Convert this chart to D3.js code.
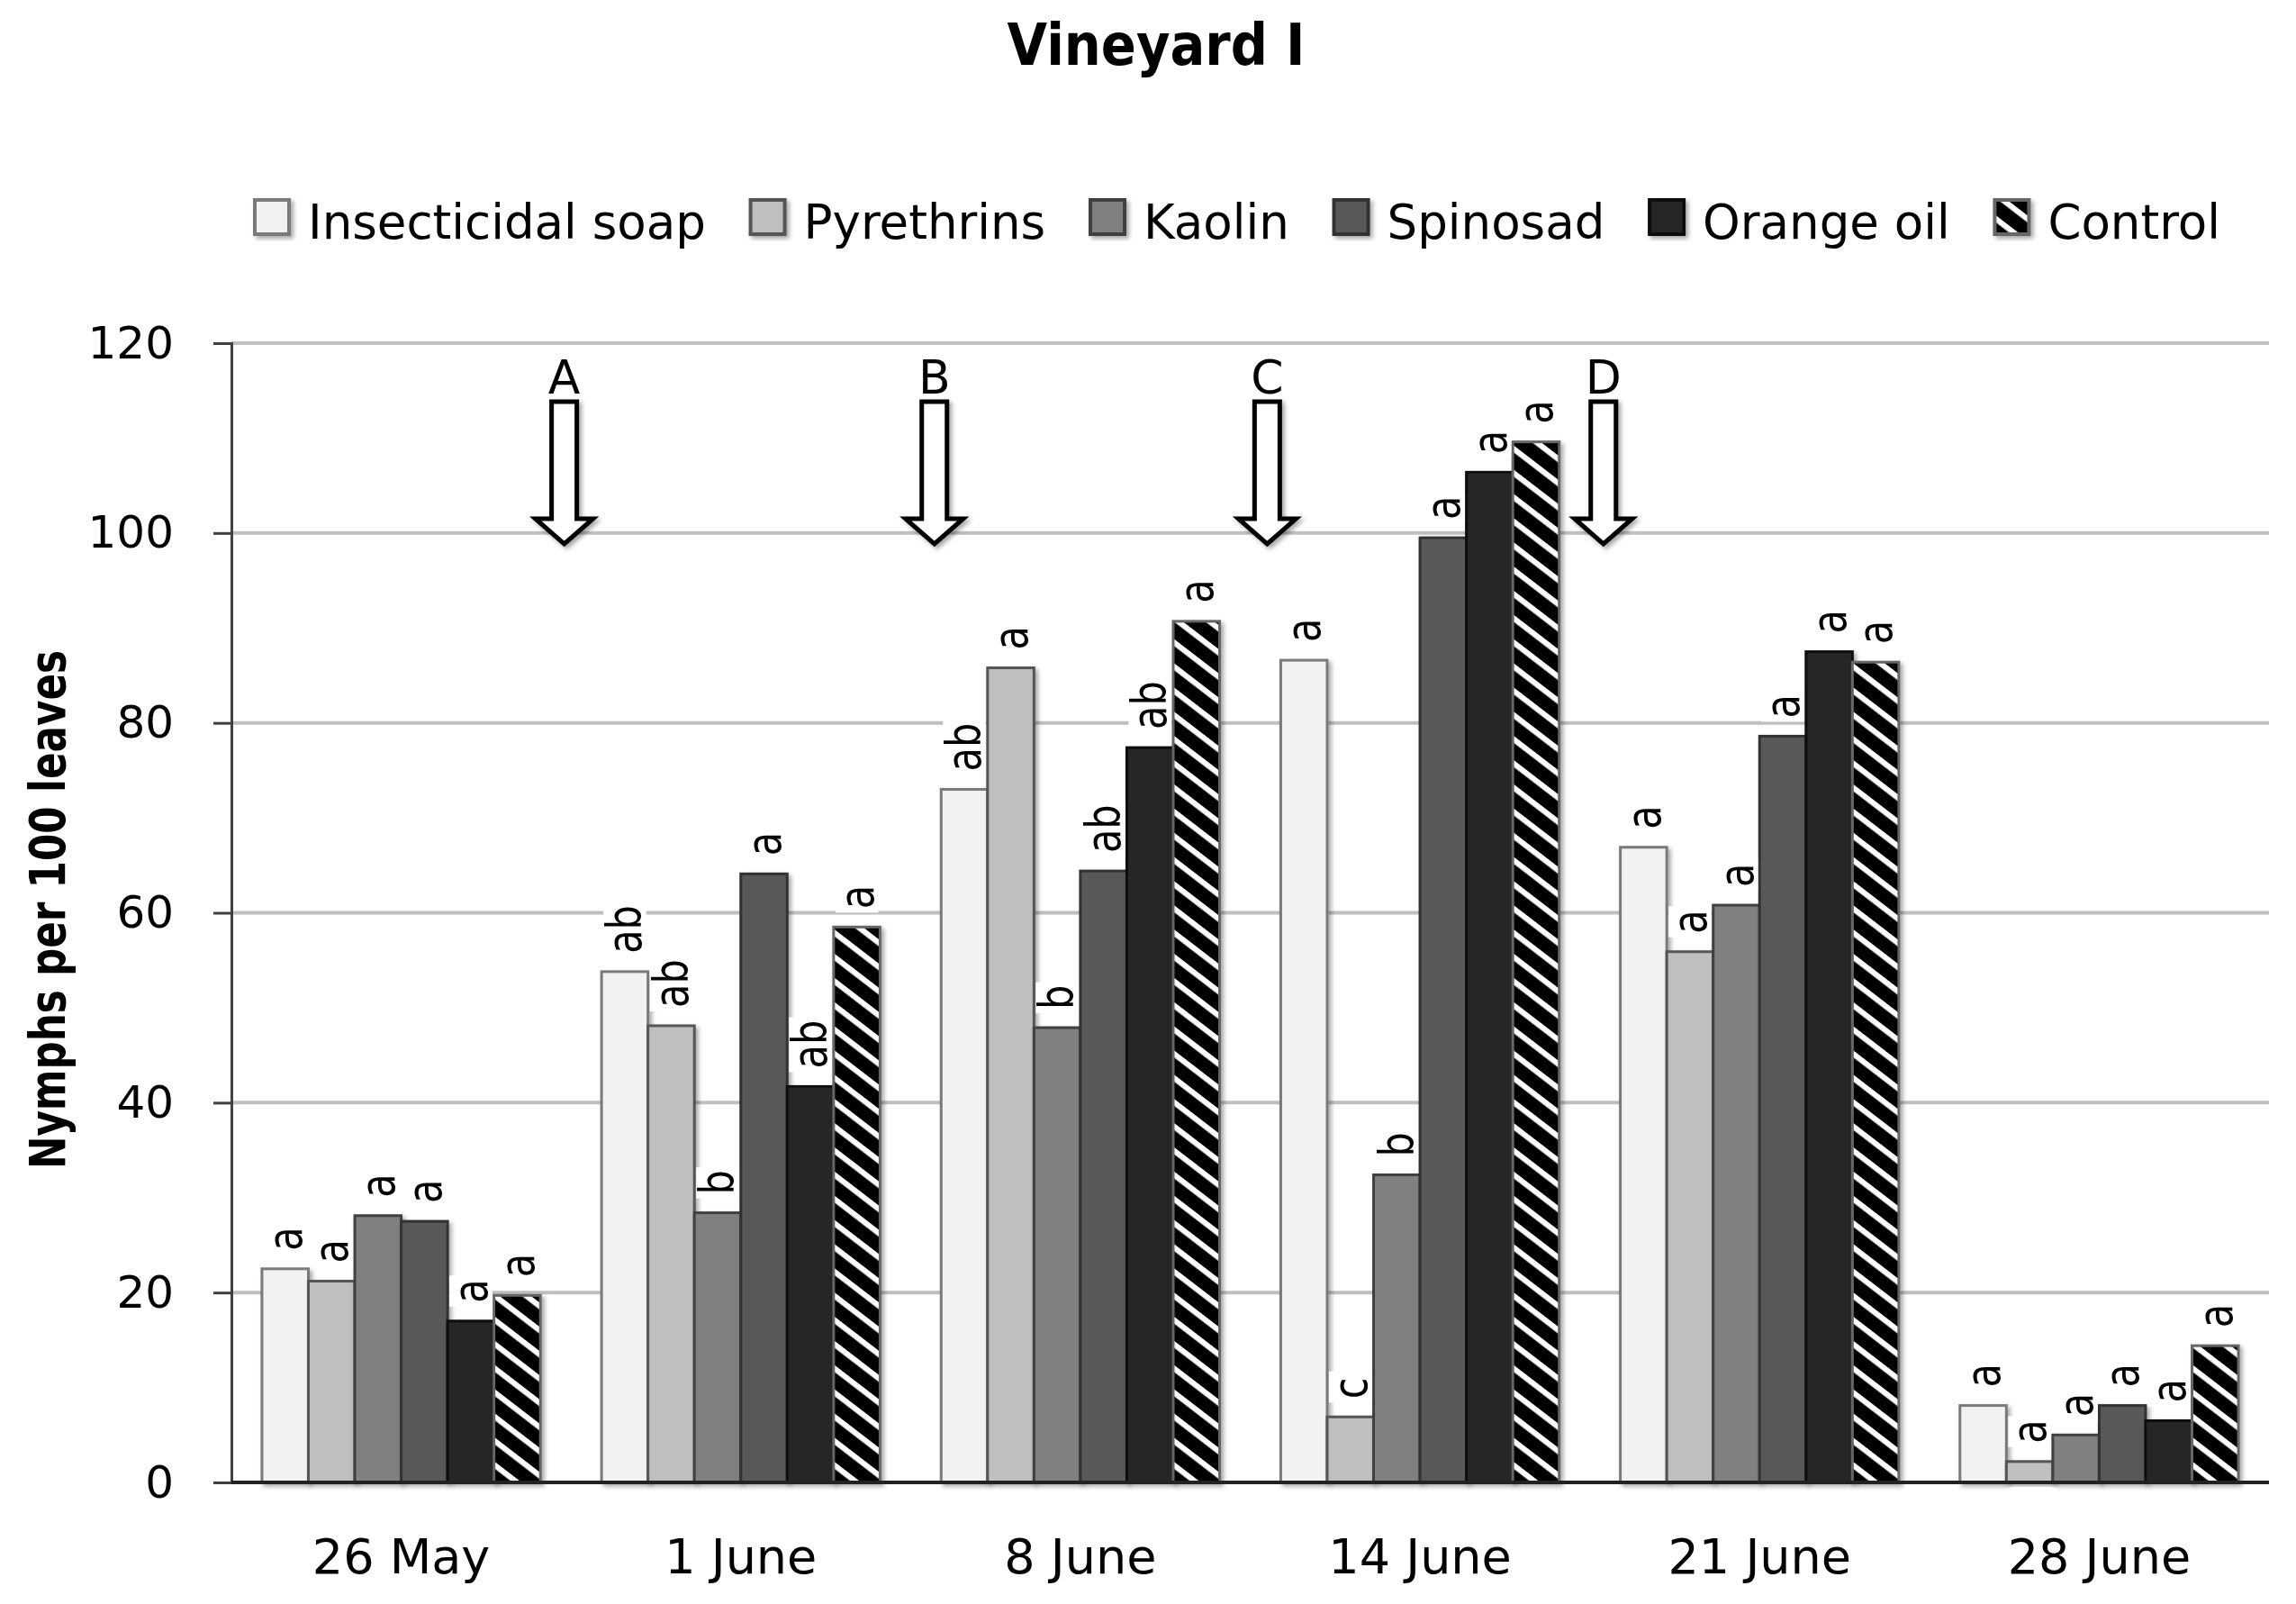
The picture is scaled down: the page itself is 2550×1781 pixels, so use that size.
<!DOCTYPE html>
<html>
<head>
<meta charset="utf-8">
<script src="https://d3js.org/d3.v7.min.js"></script>
<style>
  body { margin: 0; background: #fff; }
  svg text { font-family: "DejaVu Sans", sans-serif; fill: #000; }
</style>
</head>
<body>
<div id="chart"></div>
<script>
// data
const dates = ["26 May", "1 June", "8 June", "14 June", "21 June", "28 June"];
const treatments = ["Insecticidal soap", "Pyrethrins", "Kaolin", "Spinosad", "Orange oil", "Control"];

const insecticidalSoap = [22.5, 53.8, 73.0, 86.6, 66.9, 8.1];
const pyrethrins       = [21.2, 48.1, 85.8, 6.9, 55.9, 2.2];
const kaolin           = [28.1, 28.4, 47.9, 32.4, 60.8, 5.0];
const spinosad         = [27.5, 64.1, 64.4, 99.5, 78.6, 8.1];
const orangeOil        = [17.0, 41.7, 77.4, 106.4, 87.5, 6.5];
const control          = [19.7, 58.5, 90.7, 109.6, 86.4, 14.4];

const soapLetters     = ["a", "ab", "ab", "a", "a", "a"];
const pyrLetters      = ["a", "ab", "a", "c", "a", "a"];
const kaolinLetters   = ["a", "b", "b", "b", "a", "a"];
const spinosadLetters = ["a", "a", "ab", "a", "a", "a"];
const orangeLetters   = ["a", "ab", "ab", "a", "a", "a"];
const controlLetters  = ["a", "a", "a", "a", "a", "a"];

const yTicks = [0, 20, 40, 60, 80, 100, 120];

// spray dates, as positions on the date axis (index units)
const sprayLabels = ["A", "B", "C", "D"];
const sprayPos = [0.48, 1.57, 2.55, 3.54];

const seriesValues = [insecticidalSoap, pyrethrins, kaolin, spinosad, orangeOil, control];
const seriesLetters = [soapLetters, pyrLetters, kaolinLetters, spinosadLetters, orangeLetters, controlLetters];
const fills = ["#f2f2f2", "#bfbfbf", "#808080", "#595959", "#262626", "url(#hatch)"];
const strokes = ["#7a7a7a", "#555555", "#404040", "#333333", "#111111", "#666666"];

const W = 2550, H = 1781;
const margin = { left: 257, top: 381 };
const plotRight = 2520, plotBottom = 1646;

const svg = d3.select("#chart").append("svg")
  .attr("width", W).attr("height", H);

const defs = svg.append("defs");
// wide downward diagonal, a bit stretched sideways like the original
const hatch = defs.append("pattern")
  .attr("id", "hatch")
  .attr("patternUnits", "userSpaceOnUse")
  .attr("width", 19).attr("height", 19)
  .attr("patternTransform", "scale(1.3,1) rotate(-45)");
hatch.append("rect").attr("width", 19).attr("height", 19).attr("fill", "#000");
hatch.append("rect").attr("x", 13.5).attr("width", 5.5).attr("height", 19).attr("fill", "#fff");

const shadow = defs.append("filter").attr("id", "shadow")
  .attr("x", "-30%").attr("y", "-10%").attr("width", "160%").attr("height", "130%");
shadow.append("feDropShadow").attr("dx", 3).attr("dy", 3)
  .attr("stdDeviation", 2.5).attr("flood-color", "#000").attr("flood-opacity", 0.35);

const x0 = d3.scaleBand().domain(dates).range([margin.left, plotRight])
  .paddingInner(0.18).paddingOuter(0.09);
const x1 = d3.scaleBand().domain(treatments).range([0, x0.bandwidth()]);
const y = d3.scaleLinear().domain([0, 120]).range([plotBottom, margin.top]);
const xPos = d3.scaleLinear().domain([0, dates.length - 1])
  .range([x0(dates[0]) + x0.bandwidth() / 2, x0(dates[dates.length - 1]) + x0.bandwidth() / 2]);

// gridlines
svg.append("g").selectAll("line").data(yTicks.filter(d => d > 0)).join("line")
  .attr("x1", margin.left).attr("x2", plotRight)
  .attr("y1", d => y(d)).attr("y2", d => y(d))
  .attr("stroke", "#bfbfbf").attr("stroke-width", 4);

// y axis
const yAxis = svg.append("g")
  .attr("transform", `translate(${margin.left},0)`)
  .call(d3.axisLeft(y).tickValues(yTicks).tickSize(20).tickPadding(44));
yAxis.select(".domain").attr("stroke", "#404040").attr("stroke-width", 3);
yAxis.selectAll(".tick line").attr("stroke", "#404040").attr("stroke-width", 3);
yAxis.selectAll(".tick text").attr("font-size", 50).attr("font-family", "DejaVu Sans").attr("fill", "#000");

// bars
const rows = dates.map((d, i) => ({ date: d, i }));
const cells = d => treatments.map((t, k) => ({ t, k, v: seriesValues[k][d.i], l: seriesLetters[k][d.i] }));
const groups = svg.append("g").selectAll("g").data(rows).join("g")
  .attr("transform", d => `translate(${x0(d.date)},0)`);

groups.selectAll("rect").data(cells)
  .join("rect")
  .attr("x", d => x1(d.t))
  .attr("y", d => y(d.v))
  .attr("width", x1.bandwidth())
  .attr("height", d => y(0) - y(d.v))
  .attr("fill", d => fills[d.k])
  .attr("stroke", d => strokes[d.k])
  .attr("stroke-width", 3)
  .attr("filter", "url(#shadow)");

// significance letters (rotated, slightly condensed), with white label boxes
const labelSize = 54, squeeze = 0.8;
const labels = groups.selectAll("g.lab").data(cells)
  .join("g").attr("class", "lab")
  .attr("transform", d => `translate(${x1(d.t) + x1.bandwidth() / 2},${y(d.v) - 20}) rotate(-90) scale(${squeeze},1)`);
labels.append("rect")
  .attr("x", -5)
  .attr("y", -x1.bandwidth() / 2 + 2)
  .attr("width", d => d.l.length * 33 + 10)
  .attr("height", x1.bandwidth() - 4)
  .attr("fill", "#fff");
labels.append("text")
  .attr("x", 0).attr("y", 0)
  .attr("dominant-baseline", "central")
  .attr("font-size", labelSize)
  .text(d => d.l);

// x axis line
svg.append("line")
  .attr("x1", margin.left).attr("x2", plotRight)
  .attr("y1", y(0)).attr("y2", y(0))
  .attr("stroke", "#222").attr("stroke-width", 4);

// date labels
svg.append("g").selectAll("text").data(dates).join("text")
  .attr("x", d => x0(d) + x0.bandwidth() / 2)
  .attr("y", 1747)
  .attr("text-anchor", "middle")
  .attr("font-size", 54)
  .text(d => d);

// spray arrows
const arrow = svg.append("g").selectAll("g").data(sprayLabels.map((s, i) => ({ s, p: sprayPos[i] })))
  .join("g")
  .attr("transform", d => `translate(${xPos(d.p)},0)`);
const shaftW = 14, headW = 32, shaftTop = 446, headY = 576, tipY = 604;
arrow.append("path")
  .attr("d", `M${-shaftW},${shaftTop} L${shaftW},${shaftTop} L${shaftW},${headY} L${headW},${headY} L0,${tipY} L${-headW},${headY} L${-shaftW},${headY} Z`)
  .attr("fill", "#fff").attr("stroke", "#000").attr("stroke-width", 5)
  .attr("stroke-linejoin", "miter")
  .attr("filter", "url(#shadow)");
arrow.append("text")
  .attr("y", 437)
  .attr("text-anchor", "middle")
  .attr("font-size", 52)
  .text(d => d.s);

// y title
svg.append("text")
  .attr("transform", `translate(72,1010) rotate(-90) scale(0.78,1)`)
  .attr("text-anchor", "middle")
  .attr("font-size", 56)
  .attr("font-weight", "bold")
  .text("Nymphs per 100 leaves");

// title
svg.append("text")
  .attr("transform", "translate(1284,72) scale(0.9,1)")
  .attr("text-anchor", "middle")
  .attr("font-size", 64)
  .attr("font-weight", "bold")
  .text("Vineyard I");

// legend, stretched to the same span as the original
const legend = svg.append("g").attr("transform", "translate(0,265)");
const legendLeft = 283, legendRight = 2466, swatch = 38, textGap = 59;
const legendItems = treatments.map((t, k) => {
  const g = legend.append("g");
  g.append("rect").attr("x", 0).attr("y", -43).attr("width", swatch).attr("height", swatch)
    .attr("fill", fills[k]).attr("stroke", strokes[k]).attr("stroke-width", 4)
    .attr("filter", "url(#shadow)");
  const tx = g.append("text").attr("x", textGap).attr("y", 0).attr("font-size", 53).text(t);
  return { g, w: textGap + tx.node().getComputedTextLength() };
});
const totalW = d3.sum(legendItems, d => d.w);
const gap = (legendRight - legendLeft - totalW) / (legendItems.length - 1);
let lx = legendLeft;
legendItems.forEach(d => {
  d.g.attr("transform", `translate(${lx},0)`);
  lx += d.w + gap;
});
</script>
</body>
</html>
